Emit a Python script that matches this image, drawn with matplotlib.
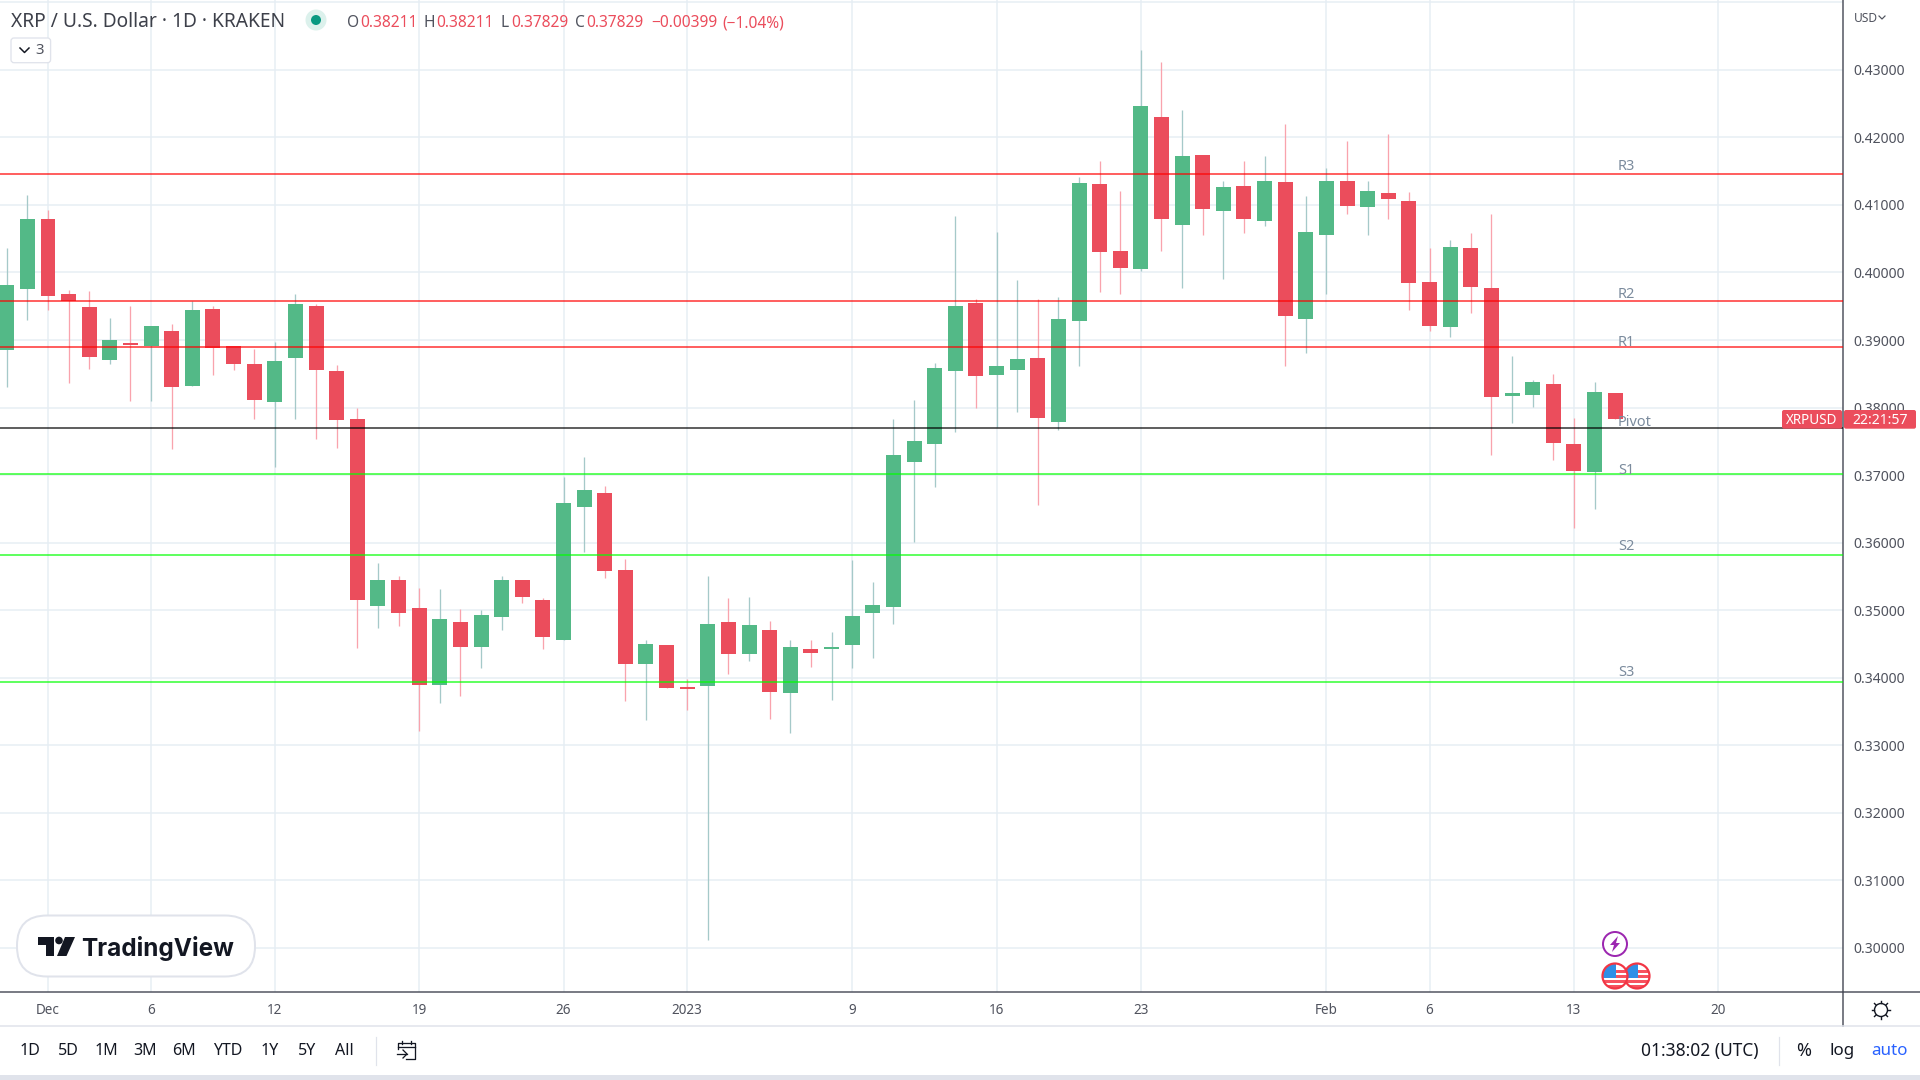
import matplotlib
matplotlib.use("Agg")
import matplotlib.pyplot as plt
from matplotlib.patches import Circle, FancyBboxPatch, Polygon, Rectangle

plt.rcParams['font.family'] = ['Noto Sans', 'DejaVu Sans']

# ---------- data ----------
days = list(range(-2, 77))  # days since 1 Dec 2022
opens = [.38853,.39756,.40792,.39682,.39489,.38705,.38956,.38912,.39134,.3832,.3946,.38912,.38645,.38083,.38734,.39504,
         .38542,.37831,.35063,.35448,.35033,.33893,.34826,.34456,.349,.35448,.35152,.34559,.36528,.36736,.35596,.34204,
         .34485,.33864,.33879,.34826,.34352,.34707,.33775,.34426,.34426,.34485,.34959,.35048,.37195,.37461,.38542,.39548,
         .38482,.38557,.38734,.37787,.39282,.4131,.40318,.40052,.42302,.40703,.41739,.4091,.4128,.40762,.4134,.39312,.4055,
         .41354,.4097,.41177,.41058,.39859,.39193,.40363,.3977,.38172,.38186,.38349,.37461,.37047,.38211]
highs = [.40363,.41147,.40925,.39741,.39726,.39326,.39504,.39208,.39238,.39578,.39504,.38912,.38867,.38971,.39682,.39534,
         .38631,.37994,.35699,.35507,.35329,.35314,.35018,.35003,.35507,.35448,.35181,.36972,.37269,.36839,.35759,.34559,
         .34485,.33982,.35507,.35181,.35196,.34841,.34559,.34559,.34678,.35744,.35418,.37831,.38112,.3866,.40836,.39608,
         .40599,.39889,.39608,.39637,.41414,.41651,.41206,.43294,.43116,.42406,.41739,.41354,.41651,.41725,.42198,.41132,
         .41547,.4195,.41354,.4205,.41192,.40363,.40481,.40585,.40866,.38764,.38408,.38497,.37846,.38379,.38211]
lows = [.38305,.39297,.39445,.38364,.38571,.38645,.38098,.38098,.37387,.3832,.38482,.38557,.37831,.37121,.37831,.37535,
        .37402,.34441,.34737,.34767,.33212,.33627,.3373,.34145,.34707,.35107,.34426,.34559,.35862,.35477,.33656,.33375,
        .33849,.33523,.30118,.34056,.34249,.3339,.33183,.3416,.33671,.34145,.34293,.34796,.3601,.36824,.37639,.37994,
        .37713,.37935,.36558,.37668,.38616,.39711,.39682,.40022,.40318,.3977,.4055,.39904,.40585,.40688,.38616,.38808,
        .39682,.40866,.4055,.40792,.39445,.39134,.39045,.394,.37298,.37772,.38009,.37224,.36218,.36499,.37829]
closes = [.39815,.40792,.39652,.39578,.38749,.39001,.38927,.39208,.38305,.39445,.38882,.38645,.38112,.3869,.39534,.38557,
          .37816,.35152,.35448,.34959,.33893,.3487,.34456,.3493,.35448,.35196,.34604,.36588,.3678,.35581,.34204,.345,
          .33849,.33834,.34796,.34352,.34781,.3379,.34456,.34367,.34456,.34915,.35078,.37298,.37505,.38586,.39504,.38468,
          .38616,.38719,.37846,.39312,.41325,.40303,.40066,.42465,.40792,.41725,.4094,.41266,.40792,.41354,.39356,.40599,
          .41354,.40984,.41206,.41088,.39845,.39208,.40377,.39785,.38157,.38216,.38379,.37476,.37061,.38231,.37829]

level_names = ['R3', 'R2', 'R1', 'Pivot', 'S1', 'S2', 'S3']
level_values = [.41463, .39578, .38897, .37698, .37017, .35818, .33938]
level_colors = ['#ff0000', '#ff0000', '#ff0000', '#000000', '#00ff00', '#00ff00', '#00ff00']

price_ticks = [.30, .31, .32, .33, .34, .35, .36, .37, .38, .39, .40, .41, .42, .43]
time_ticks = [0, 5, 11, 18, 25, 31, 39, 46, 53, 62, 67, 74, 81]
time_labels = ['Dec', '6', '12', '19', '26', '2023', '9', '16', '23', 'Feb', '6', '13', '20']

# ---------- colours ----------
UP, DOWN = '#53b987', '#eb4d5c'
UPW, DOWNW = '#a5c9c9', '#f9a3ad'
GRID = '#e6eef4'
AXIS = '#50535e'
TXT = '#50535e'
PX = 0.72  # one pixel in points at dpi=100

fig = plt.figure(figsize=(19.2, 10.8), dpi=100, facecolor='white')
ax = fig.add_axes([0, 88/1080, 1843/1920, 992/1080])
ax.set_xlim(-2.328, 87.05)
ax.set_ylim(.29348, .44034)
ax.set_axisbelow(True)
ax.grid(True, color=GRID, lw=1.5*PX)
ax.set_yticks(price_ticks + [.44])
ax.set_yticklabels([f'{v:.5f}' for v in price_ticks] + [''])
ax.yaxis.tick_right()
ax.tick_params(axis='y', length=0, pad=10*PX, labelsize=14*PX, labelcolor=TXT)
ax.set_xticks(time_ticks)
ax.set_xticklabels(time_labels)
ax.tick_params(axis='x', length=0, pad=11*PX, labelsize=13.5*PX, labelcolor=TXT)
for t in ax.get_xticklabels():
    if t.get_text() == '2023':
        t.set_fontweight('bold')
for s in ('top', 'left'):
    ax.spines[s].set_visible(False)
for s in ('bottom', 'right'):
    ax.spines[s].set_color(AXIS)
    ax.spines[s].set_linewidth(1.5*PX)

for d, o, h, l, c in zip(days, opens, highs, lows, closes):
    up = c >= o
    ax.vlines(d, l, h, color=UPW if up else DOWNW, lw=1.3*PX, zorder=2)
    ax.bar(d, max(abs(c-o), .0003), bottom=min(o, c), width=0.727,
           color=UP if up else DOWN, lw=0, zorder=3)
for v, col in zip(level_values, level_colors):
    ax.axhline(v, color=col, alpha=.62, lw=2*PX, zorder=4)

# ---------- chrome in pixel coordinates ----------
ov = fig.add_axes([0, 0, 1, 1], zorder=5)
ov.set_xlim(0, 1920); ov.set_ylim(1080, 0); ov.axis('off'); ov.patch.set_alpha(0)

def T(x, y, s, size=14, color=TXT, ha='left', va='center', **k):
    return ov.text(x, y, s, fontsize=size*PX, color=color, ha=ha, va=va, **k)

# level labels
label_y = [166, 295, 343, 423, 470, 546, 673]
for name, y in zip(level_names, label_y):
    T(1618, y, name, 14.5, '#7b8b9d')

# header
T(11, 22, 'XRP / U.S. Dollar · 1D · KRAKEN', 19.2, '#3d404a')
ov.add_patch(Circle((316, 20), 10.5, fc='#dcf1ec', ec='none'))
ov.add_patch(Circle((316, 20), 5, fc='#089981', ec='none'))
for x, s in zip((347, 423.5, 500, 574.5), 'OHLC'):
    T(x, 23, s, 15.5, TXT)
for x, s in zip((360, 436, 511, 586), ('0.38211', '0.38211', '0.37829', '0.37829')):
    T(x, 23, s, 15.5, DOWN)
T(651, 23, '−0.00399', 15.5, DOWN)
T(722, 23, '(−1.04%)', 15.5, DOWN)
ov.add_patch(FancyBboxPatch((11, 38), 39.6, 24.7, boxstyle='round,pad=0,rounding_size=3', fc='white', ec='#e0e3eb', lw=1.3*PX))
ov.plot([20, 24.5, 29], [48, 52.5, 48], color='#131722', lw=1.5*PX)
T(40, 50, '3', 15, TXT, ha='center')

# USD
T(1854, 18, 'USD', 12, TXT)
ov.plot([1879, 1882, 1885], [16, 19, 16], color=TXT, lw=1.2*PX)

# price tags
ov.add_patch(FancyBboxPatch((1782, 410), 60, 18.7, boxstyle='round,pad=0,rounding_size=2', fc=DOWN, ec='none'))
ov.add_patch(FancyBboxPatch((1844, 410), 72, 18.7, boxstyle='round,pad=0,rounding_size=2', fc=DOWN, ec='none'))
T(1812, 420, 'XRPUSD', 13.5, 'white', ha='center', fontweight='bold')
T(1880, 420, '22:21:57', 14, 'white', ha='center')

# axis extensions and bottom band
ov.plot([1843.3, 1843.3], [992, 1026], color=AXIS, lw=1.5*PX)
ov.plot([1843, 1920], [992.3, 992.3], color=AXIS, lw=1.5*PX)
ov.plot([0, 1920], [1026, 1026], color='#e0e3eb', lw=1.5*PX)
ov.add_patch(Rectangle((0, 1075), 1920, 5, fc='#e0e3eb', ec='none'))

# event icons
ov.add_patch(Circle((1615, 944), 12, fc='white', ec='#9c27b0', lw=2*PX))
ov.add_patch(Polygon([(1618, 936), (1610, 945), (1614, 945), (1612, 952), (1620, 943), (1616, 943)], fc='#9c27b0', ec='none'))
for cx in (1637, 1615):
    clip = Circle((cx, 976), 12.5, fc='white', ec='none')
    ov.add_patch(clip)
    for yy, hh in ((970, 3), (975, 3), (980, 3), (985, 3)):
        r = ov.add_patch(Rectangle((cx-13, yy), 26, hh, fc='#f7525f', ec='none'))
        r.set_clip_path(clip)
    r = ov.add_patch(Rectangle((cx-13, 964), 14, 14, fc='#2f8fe6', ec='none'))
    r.set_clip_path(clip)
    ov.add_patch(Circle((cx, 976), 12.5, fc='none', ec='#f23645', lw=2.2*PX))

# logo
ov.add_patch(FancyBboxPatch((17, 915.5), 238, 61, boxstyle='round,pad=0,rounding_size=30', fc='white', ec='#e0e3eb', lw=2*PX))
LOGO = '#131722'
ov.add_patch(Polygon([(37.5, 937), (54, 937), (54, 956), (46, 956), (46, 945), (37.5, 945)], fc=LOGO, ec='none'))
ov.add_patch(Circle((59, 940.5), 3.8, fc=LOGO, ec='none'))
ov.add_patch(Polygon([(65, 937), (75, 937), (66.5, 956), (57, 956)], fc=LOGO, ec='none'))
T(81, 948.5, 'TradingView', 24.4, LOGO, fontweight='bold', family='Inter')

# toolbar
BTN = '#131722'
for x, s in zip((30, 68, 106, 145, 184, 228, 270, 307, 344),
                ('1D', '5D', '1M', '3M', '6M', 'YTD', '1Y', '5Y', 'All')):
    T(x, 1051, s, 16, BTN, ha='center')
ov.plot([375.5, 375.5], [1037, 1065], color='#e0e3eb', lw=1.2*PX)
ov.plot([1779, 1779], [1037, 1065], color='#e0e3eb', lw=1.2*PX)
ov.plot([398, 398, 415, 415, 406], [1049, 1043, 1043, 1059, 1059], color=BTN, lw=1.3*PX)
ov.plot([398, 415], [1047, 1047], color=BTN, lw=1.3*PX)
ov.plot([402, 402], [1041, 1044], color=BTN, lw=1.3*PX)
ov.plot([411, 411], [1041, 1044], color=BTN, lw=1.3*PX)
ov.plot([397, 407], [1054, 1054], color=BTN, lw=1.3*PX)
ov.plot([403, 407, 403], [1050, 1054, 1058], color=BTN, lw=1.3*PX)
T(1641, 1051, '01:38:02 (UTC)', 17.4, BTN)
T(1804, 1051, '%', 18, BTN, ha='center')
T(1842, 1051, 'log', 17, BTN, ha='center')
T(1889, 1051, 'auto', 17, '#2962ff', ha='center')

# gear
ov.add_patch(Circle((1881, 1010), 6.5, fc='white', ec=BTN, lw=1.4*PX))
for dx, dy in ((0, -9), (0, 9), (-9, 0), (9, 0), (-6.5, -6.5), (6.5, -6.5), (-6.5, 6.5), (6.5, 6.5)):
    ov.plot([1881+dx*.78, 1881+dx], [1010+dy*.78, 1010+dy], color=BTN, lw=1.4*PX)

fig.savefig('out.png', dpi=100)
